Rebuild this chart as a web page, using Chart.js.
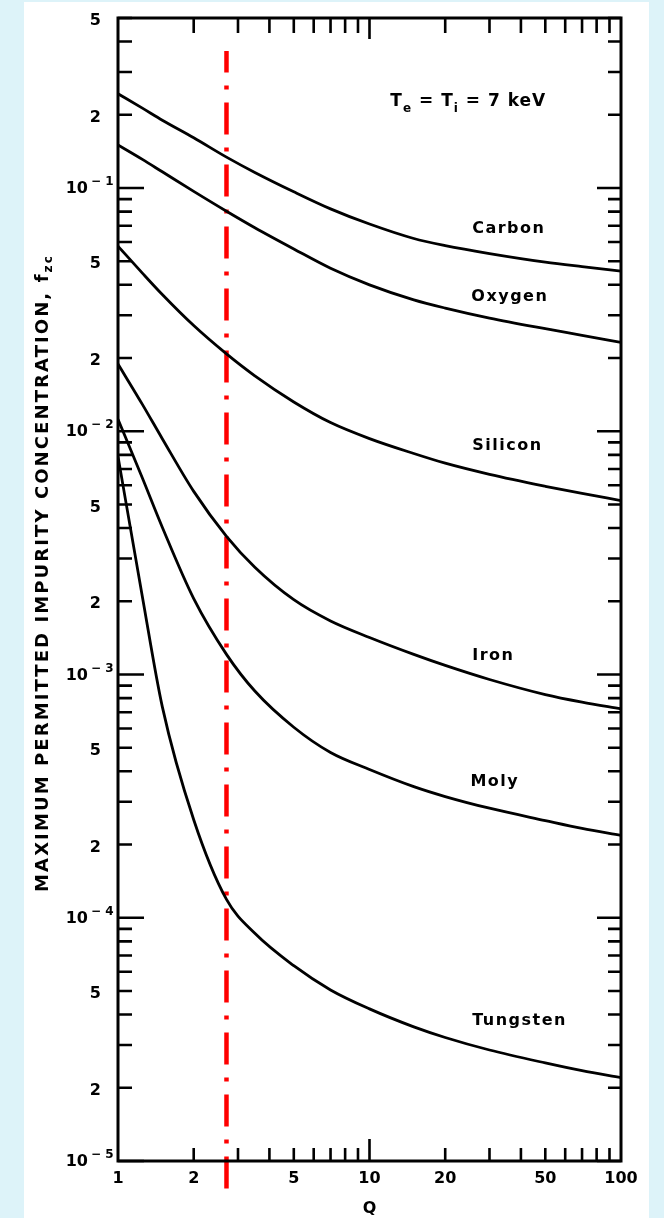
<!DOCTYPE html>
<html>
<head>
<meta charset="utf-8">
<script src="https://cdn.jsdelivr.net/npm/chart.js@4.4.1/dist/chart.umd.min.js"></script>
<style>
html, body { margin: 0; padding: 0; background: #ddf3f9; }
#panel { position: absolute; left: 24px; top: 2px; width: 625px; height: 1216px; background: #fff; }
#chart { position: absolute; left: 0; top: 0; }
</style>
</head>
<body>
<div id="panel"></div>
<canvas id="chart" width="664" height="1218"></canvas>
<script>
// Q values (x) shared by all curves
const qValues = [1, 1.25, 1.5, 2, 2.7, 3.5, 5, 7, 10, 15, 20, 30, 50, 70, 100];

// maximum permitted impurity concentration f_zc, Te = Ti = 7 keV
const carbon   = [0.244, 0.213, 0.190, 0.161, 0.134, 0.1159, 0.0965, 0.0821, 0.0711, 0.0620, 0.0580, 0.0538, 0.0496, 0.0475, 0.0455];
const oxygen   = [0.1503, 0.1311, 0.1166, 0.0969, 0.0803, 0.0687, 0.0562, 0.0468, 0.0400, 0.0347, 0.0321, 0.0292, 0.0264, 0.0248, 0.0232];
const silicon  = [0.0577, 0.0447, 0.0365, 0.0272, 0.0208, 0.0169, 0.0132, 0.01086, 0.00933, 0.00810, 0.00739, 0.00665, 0.00594, 0.00555, 0.00519];
const iron     = [0.0189, 0.0129, 0.00932, 0.00566, 0.00370, 0.00276, 0.00203, 0.00166, 0.00142, 0.00121, 0.00109, 0.000954, 0.000827, 0.000770, 0.000723];
const moly     = [0.0112, 0.00642, 0.00403, 0.00205, 0.00121, 0.000855, 0.000607, 0.000478, 0.000407, 0.000346, 0.000315, 0.000282, 0.000251, 0.000233, 0.000218];
const tungsten = [0.00788, 0.00209, 0.000738, 0.000253, 0.000119, 0.0000863, 0.0000635, 0.0000505, 0.0000422, 0.0000356, 0.0000322, 0.0000286, 0.0000253, 0.0000235, 0.0000220];

// curve names and where their labels sit (Q, f)
const curveNames = ["Carbon", "Oxygen", "Silicon", "Iron", "Moly", "Tungsten"];
const labelQ = [25.6, 25.4, 25.6, 25.6, 25.2, 25.6];
const labelF = [0.0678, 0.0356, 0.00867, 0.00119, 0.000363, 0.0000377];

// vertical dash-dot marker
const markerQ = 2.7;
const markerF = [0.0000077, 0.366];

// axis ticks
const xTickValues = [1, 2, 5, 10, 20, 50, 100];
const xTickLabels = ["1", "2", "5", "10", "20", "50", "100"];
const yTickValues = [0.5, 0.2, 0.1, 0.05, 0.02, 0.01, 0.005, 0.002, 0.001, 0.0005, 0.0002, 0.0001, 0.00005, 0.00002, 0.00001];
const yTickLabels = ["5", "2", "-1", "5", "2", "-2", "5", "2", "-3", "5", "2", "-4", "5", "2", "-5"];

const series = [carbon, oxygen, silicon, iron, moly, tungsten];
const FONT = "'DejaVu Sans'";

const datasets = series.map((vals, i) => ({
    label: curveNames[i],
    data: qValues.map((q, j) => ({ x: q, y: vals[j] })),
    borderColor: "#000",
    borderWidth: 2.8,
    pointRadius: 0,
    cubicInterpolationMode: "monotone",
    fill: false
}));

datasets.push({
    label: "marker",
    data: [{ x: markerQ, y: markerF[0] }, { x: markerQ, y: markerF[1] }],
    borderColor: "#ff0000",
    borderWidth: 4.5,
    borderDash: [32, 13, 4, 13],
    borderCapStyle: "butt",
    pointRadius: 0,
    clip: false
});

const framePlugin = {
    id: "frame",
    afterDraw(chart) {
        const ctx = chart.ctx;
        const a = chart.chartArea;
        const xs = chart.scales.x, ys = chart.scales.y;
        ctx.save();
        ctx.strokeStyle = "#000";
        ctx.lineWidth = 3;
        ctx.strokeRect(a.left, a.top, a.right - a.left, a.bottom - a.top);

        // inward tick marks
        ctx.lineWidth = 2.6;
        ctx.beginPath();
        for (let d = -5; d <= -1; d++) {
            for (let m = 1; m <= 9; m++) {
                const v = m * Math.pow(10, d);
                if (v > 0.5 + 1e-9) continue;
                const y = ys.getPixelForValue(v);
                const major = m === 1;
                ctx.moveTo(a.left, y); ctx.lineTo(a.left + (major ? 26 : 14), y);
                ctx.moveTo(a.right, y); ctx.lineTo(a.right - (major ? 24 : 13), y);
            }
        }
        for (let d = 0; d <= 1; d++) {
            for (let m = 1; m <= 9; m++) {
                const v = m * Math.pow(10, d);
                if (v <= 1 || v >= 100) continue;
                const x = xs.getPixelForValue(v);
                const major = m === 1;
                ctx.moveTo(x, a.bottom); ctx.lineTo(x, a.bottom - (major ? 22 : 13));
                ctx.moveTo(x, a.top); ctx.lineTo(x, a.top + (major ? 21 : 15));
            }
        }
        ctx.stroke();

        ctx.fillStyle = "#000";
        ctx.textBaseline = "middle";

        // x tick labels
        ctx.font = "bold 16px " + FONT;
        ctx.textAlign = "center";
        xTickValues.forEach((v, i) => {
            ctx.fillText(xTickLabels[i], xs.getPixelForValue(v), a.bottom + 18);
        });
        ctx.fillText("Q", xs.getPixelForValue(10), a.bottom + 48);

        // y tick labels
        yTickValues.forEach((v, i) => {
            const y = ys.getPixelForValue(v);
            const t = yTickLabels[i];
            if (t.startsWith("-")) {
                ctx.font = "bold 16px " + FONT;
                ctx.textAlign = "right";
                ctx.fillText("10", 88, y + 1);
                ctx.font = "bold 12px " + FONT;
                ctx.textAlign = "left";
                ctx.fillText("\u2212 " + t.slice(1), 91, y - 6);
            } else {
                ctx.font = "bold 16px " + FONT;
                ctx.textAlign = "right";
                ctx.fillText(t, 101, y + 3);
            }
        });

        // curve labels
        ctx.font = "bold 16px " + FONT;
        ctx.textAlign = "left";
        ctx.letterSpacing = "1.5px";
        curveNames.forEach((n, i) => {
            ctx.fillText(n, xs.getPixelForValue(labelQ[i]), ys.getPixelForValue(labelF[i]));
        });

        // Te = Ti = 7 keV
        let x = xs.getPixelForValue(12.1);
        const yT = ys.getPixelForValue(0.226);
        ctx.letterSpacing = "1px";
        const part = (txt, size, dy) => {
            ctx.font = "bold " + size + "px " + FONT;
            ctx.fillText(txt, x, yT + dy);
            x += ctx.measureText(txt).width;
        };
        part("T", 17, 0);
        part("e", 12, 7);
        part(" = T", 17, 0);
        part("i", 12, 7);
        part(" = 7 keV", 17, 0);

        // y axis title
        ctx.save();
        ctx.translate(43, 573);
        ctx.rotate(-Math.PI / 2);
        ctx.letterSpacing = "2.1px";
        const main = "MAXIMUM PERMITTED IMPURITY CONCENTRATION, f";
        ctx.font = "bold 12px " + FONT;
        const subW = ctx.measureText("zc").width;
        ctx.font = "bold 18px " + FONT;
        const mainW = ctx.measureText(main).width;
        const start = -(mainW + subW) / 2;
        ctx.textAlign = "left";
        ctx.fillText(main, start, 0);
        ctx.font = "bold 12px " + FONT;
        ctx.fillText("zc", start + mainW, 6);
        ctx.restore();

        ctx.restore();
    }
};

new Chart(document.getElementById("chart"), {
    type: "line",
    data: { datasets: datasets },
    options: {
        responsive: false,
        animation: false,
        layout: { padding: { left: 0, top: 18, right: 43, bottom: 0 } },
        plugins: { legend: { display: false }, tooltip: { enabled: false } },
        scales: {
            x: {
                type: "logarithmic", min: 1, max: 100,
                ticks: { display: false }, grid: { display: false }, border: { display: false },
                afterFit: s => { s.height = 57; }
            },
            y: {
                type: "logarithmic", min: 0.00001, max: 0.5,
                ticks: { display: false }, grid: { display: false }, border: { display: false },
                afterFit: s => { s.width = 118; }
            }
        }
    },
    plugins: [framePlugin]
});
</script>
</body>
</html>
